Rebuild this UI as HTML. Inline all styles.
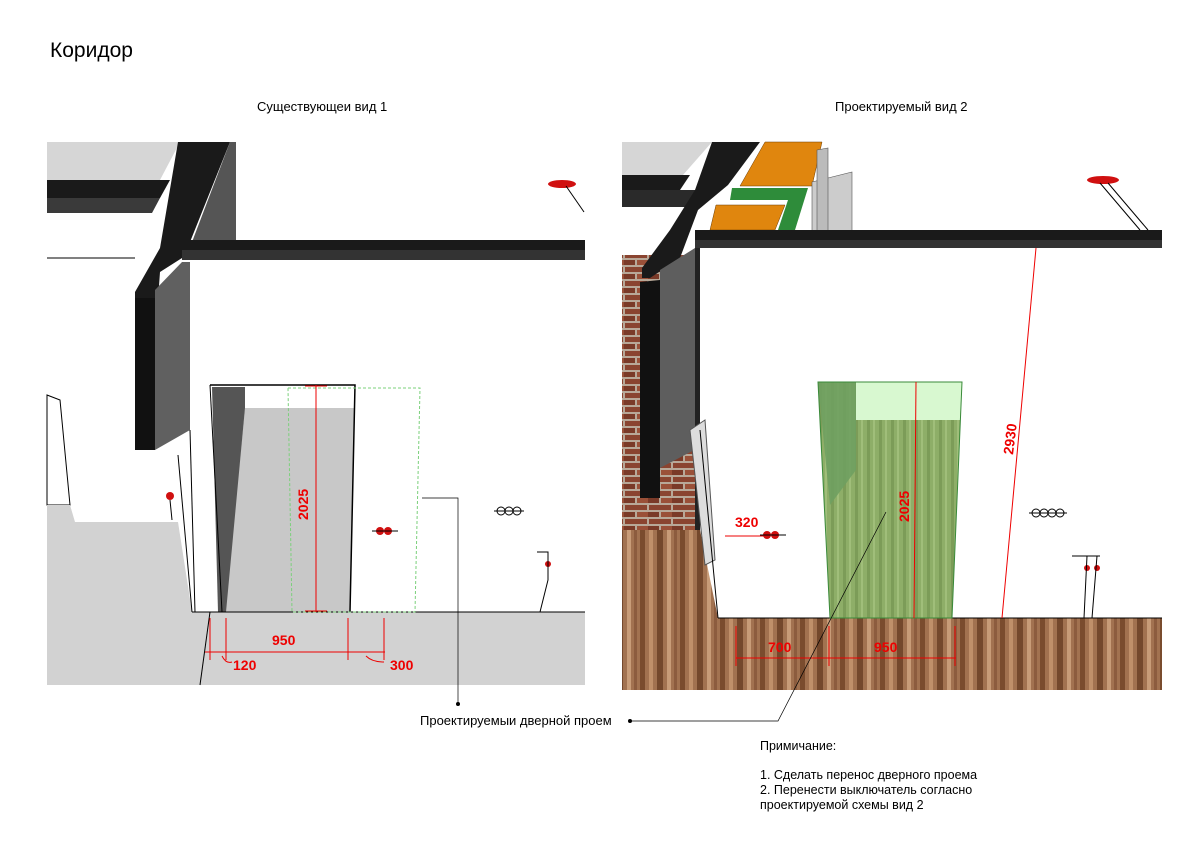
<!DOCTYPE html>
<html><head><meta charset="utf-8"><style>
body{margin:0;background:#fff;width:1200px;height:848px;overflow:hidden}
svg{display:block}
text{font-family:"Liberation Sans","DejaVu Sans",sans-serif}
</style></head><body>
<svg width="1200" height="848" viewBox="0 0 1200 848">
<defs>
<pattern id="wood" width="40" height="80" patternUnits="userSpaceOnUse">
<rect width="40" height="80" fill="#a27250"/>
<rect x="0" width="5" height="80" fill="#7a4c2e"/>
<rect x="9" width="4" height="80" fill="#c0906a"/>
<rect x="17" width="6" height="80" fill="#74482c"/>
<rect x="27" width="4" height="80" fill="#c89c78"/>
<rect x="34" width="3" height="80" fill="#8c5c3e"/>
</pattern>
<pattern id="brick" width="24" height="14" patternUnits="userSpaceOnUse">
<rect width="24" height="14" fill="#b8a898"/>
<rect x="1" y="1" width="22" height="5" fill="#8a4430"/>
<rect x="-11" y="8" width="22" height="5" fill="#7a3a28"/>
<rect x="13" y="8" width="22" height="5" fill="#9a5038"/>
</pattern>
<pattern id="green" width="12" height="40" patternUnits="userSpaceOnUse">
<rect width="12" height="40" fill="#8eae68"/>
<rect x="3" width="3" height="40" fill="#7c9c58"/>
<rect x="9" width="2" height="40" fill="#a0be7a"/>
</pattern>
</defs>

<text x="50" y="57" font-size="21">Коридор</text>
<text x="257" y="111" font-size="13">Существующеи вид 1</text>
<text x="835" y="111" font-size="13">Проектируемый вид 2</text>

<!-- LEFT PANEL -->
<g>
<polygon points="47,142 180,142 160,180 47,180" fill="#d6d6d6"/>
<polygon points="47,180 170,180 160,198 47,198" fill="#1a1a1a"/>
<polygon points="47,198 160,198 152,213 47,213" fill="#3a3a3a"/>
<polygon points="178,142 230,142 190,242 182,258 160,272 158,300 135,300 135,292 160,248" fill="#1a1a1a"/>
<polygon points="230,142 236,142 236,242 192,242" fill="#555"/>
<polygon points="182,240 585,240 585,250 182,250" fill="#1a1a1a"/>
<polygon points="182,250 585,250 585,260 182,260" fill="#333"/>
<polygon points="135,298 155,298 155,450 135,450" fill="#111"/>
<polygon points="155,290 182,262 190,262 190,430 155,450" fill="#606060"/>
<polygon points="47,395 60,400 70,505 47,505" fill="#fff" stroke="#000" stroke-width="1"/>
<polygon points="47,505 70,505 75,522 178,522 192,612 585,612 585,685 47,685" fill="#d2d2d2"/>
<line x1="47" y1="258" x2="135" y2="258" stroke="#000" stroke-width="1"/>
<line x1="190" y1="430" x2="195" y2="612" stroke="#000"/>
<line x1="178" y1="455" x2="192" y2="612" stroke="#000"/>
<polygon points="245,408 355,408 350,612 225,612" fill="#c8c8c8"/>
<polygon points="212,387 245,387 245,408 226,612 218,612" fill="#555"/>
<polygon points="245,387 355,387 355,408 245,408" fill="#fff"/>
<polyline points="210,385 355,385 350,612" fill="none" stroke="#000" stroke-width="1.5"/>
<line x1="210" y1="385" x2="222" y2="612" stroke="#000"/>
<line x1="192" y1="612" x2="585" y2="612" stroke="#000"/>
<line x1="210" y1="612" x2="200" y2="685" stroke="#000"/>
<polygon points="288,388 420,388 415,612 292,612" fill="none" stroke="#7bd07b" stroke-width="1" stroke-dasharray="3,2"/>
<g stroke="#e00" stroke-width="1" fill="none">
<line x1="316" y1="385" x2="316" y2="612"/>
<line x1="305" y1="386" x2="327" y2="386"/>
<line x1="305" y1="611" x2="327" y2="611"/>
<line x1="205" y1="652" x2="385" y2="652"/>
<line x1="210" y1="618" x2="210" y2="660"/><line x1="226" y1="618" x2="226" y2="660"/>
<line x1="348" y1="618" x2="348" y2="660"/><line x1="384" y1="618" x2="384" y2="660"/>
<path d="M222,656 q4,8 10,6"/><path d="M366,656 q6,6 18,6"/>
</g>
<text x="0" y="0" transform="translate(308,520) rotate(-90)" font-size="14" font-weight="bold" fill="#e00">2025</text>
<text x="272" y="645" font-size="14" font-weight="bold" fill="#e00">950</text>
<text x="233" y="670" font-size="14" font-weight="bold" fill="#e00">120</text>
<text x="390" y="670" font-size="14" font-weight="bold" fill="#e00">300</text>
<ellipse cx="562" cy="184" rx="14" ry="4" fill="#d01010"/>
<line x1="566" y1="186" x2="584" y2="212" stroke="#000"/>
<circle cx="170" cy="496" r="4" fill="#d01010"/><line x1="170" y1="500" x2="172" y2="520" stroke="#000"/>
<circle cx="380" cy="531" r="4" fill="#d01010"/><circle cx="388" cy="531" r="4" fill="#d01010"/>
<line x1="372" y1="531" x2="398" y2="531" stroke="#000"/>
<g fill="#fff" stroke="#000"><circle cx="501" cy="511" r="4"/><circle cx="509" cy="511" r="4"/><circle cx="517" cy="511" r="4"/></g>
<line x1="494" y1="511" x2="524" y2="511" stroke="#000"/>
<circle cx="548" cy="564" r="3" fill="#d01010"/>
<polyline points="537,552 548,552 548,580 540,612" fill="none" stroke="#000"/>
</g>

<!-- RIGHT PANEL -->
<g>
<polygon points="622,255 700,255 700,530 622,530" fill="url(#brick)"/>
<polygon points="622,530 700,530 718,618 1162,618 1162,690 622,690" fill="url(#wood)"/>
<polygon points="622,142 712,142 683,175 622,175" fill="#d6d6d6"/>
<polygon points="622,175 690,175 680,190 622,190" fill="#1a1a1a"/>
<polygon points="622,190 700,190 695,207 622,207" fill="#2a2a2a"/>
<polygon points="712,142 760,142 728,185 698,210 680,258 650,278 642,278 642,268 670,230 695,190" fill="#1a1a1a"/>
<polygon points="765,142 822,142 812,186 740,186" fill="#e0860e" stroke="#6a3a00" stroke-width="0.5"/>
<polygon points="732,188 808,188 795,230 778,230 788,200 730,200" fill="#2e8c3a"/>
<polygon points="716,205 785,205 775,230 710,230" fill="#e0860e" stroke="#6a3a00" stroke-width="0.5"/>
<polygon points="812,182 852,172 852,232 812,232" fill="#ccc" stroke="#555" stroke-width="0.6"/>
<polygon points="817,150 828,148 828,232 817,232" fill="#bbb" stroke="#555" stroke-width="0.6"/>
<polygon points="695,230 1162,230 1162,240 695,240" fill="#1a1a1a"/>
<polygon points="695,240 1162,240 1162,248 695,248" fill="#333"/>
<polygon points="640,282 660,280 660,498 640,498" fill="#111"/>
<polygon points="660,270 695,248 698,448 660,468" fill="#5e5e5e"/>
<polygon points="695,248 700,248 700,530 695,530" fill="#222"/>
<polygon points="690,430 705,420 715,560 705,565" fill="#ddd" stroke="#555"/>
<line x1="700" y1="430" x2="718" y2="618" stroke="#000"/>
<line x1="718" y1="618" x2="1162" y2="618" stroke="#000"/>
<polygon points="818,382 962,382 952,618 830,618" fill="url(#green)"/>
<polygon points="818,382 856,382 856,470 830,505" fill="#6fa060" opacity="0.9"/>
<polygon points="856,382 962,382 960,420 856,420" fill="#d8f8d0"/>
<polygon points="818,382 962,382 952,618 830,618" fill="none" stroke="#3a8a3a" stroke-width="1"/>
<g stroke="#e00" stroke-width="1" fill="none">
<line x1="916" y1="382" x2="914" y2="618"/>
<line x1="1036" y1="248" x2="1002" y2="618"/>
<line x1="736" y1="658" x2="956" y2="658"/>
<line x1="736" y1="626" x2="736" y2="666"/><line x1="829" y1="626" x2="829" y2="666"/><line x1="955" y1="626" x2="955" y2="666"/>
<line x1="725" y1="536" x2="770" y2="536"/>
</g>
<text x="0" y="0" transform="translate(909,522) rotate(-90)" font-size="14" font-weight="bold" fill="#e00">2025</text>
<text x="0" y="0" transform="translate(1013,455) rotate(-83)" font-size="14" font-weight="bold" fill="#e00">2930</text>
<text x="768" y="652" font-size="14" font-weight="bold" fill="#e00">700</text>
<text x="874" y="652" font-size="14" font-weight="bold" fill="#e00">950</text>
<text x="735" y="527" font-size="14" font-weight="bold" fill="#e00">320</text>
<ellipse cx="1103" cy="180" rx="16" ry="4" fill="#d01010"/>
<line x1="1100" y1="183" x2="1140" y2="230" stroke="#000"/><line x1="1108" y1="183" x2="1148" y2="230" stroke="#000"/>
<circle cx="767" cy="535" r="4" fill="#d01010"/><circle cx="775" cy="535" r="4" fill="#d01010"/>
<line x1="760" y1="535" x2="786" y2="535" stroke="#000"/>
<g fill="#fff" stroke="#000"><circle cx="1036" cy="513" r="4"/><circle cx="1044" cy="513" r="4"/><circle cx="1052" cy="513" r="4"/><circle cx="1060" cy="513" r="4"/></g>
<line x1="1029" y1="513" x2="1067" y2="513" stroke="#000"/>
<circle cx="1087" cy="568" r="3" fill="#d01010"/><circle cx="1097" cy="568" r="3" fill="#d01010"/>
<polyline points="1072,556 1100,556" fill="none" stroke="#000"/>
<polyline points="1087,556 1084,618" fill="none" stroke="#000"/><polyline points="1097,556 1092,618" fill="none" stroke="#000"/>
</g>

<polyline points="422,498 458,498 458,704" fill="none" stroke="#000" stroke-width="0.7"/>
<circle cx="458" cy="704" r="2" fill="#000"/>
<polyline points="630,721 778,721 886,512" fill="none" stroke="#000" stroke-width="0.7"/>
<circle cx="630" cy="721" r="2" fill="#000"/>
<text x="420" y="725" font-size="13">Проектируемыи дверной проем</text>

<text x="760" y="750" font-size="12.5">Примичание:</text>
<text x="760" y="779" font-size="12.5">1. Сделать перенос дверного проема</text>
<text x="760" y="794" font-size="12.5">2. Перенести выключатель согласно</text>
<text x="760" y="809" font-size="12.5">проектируемой схемы вид 2</text>
</svg>
</body></html>
